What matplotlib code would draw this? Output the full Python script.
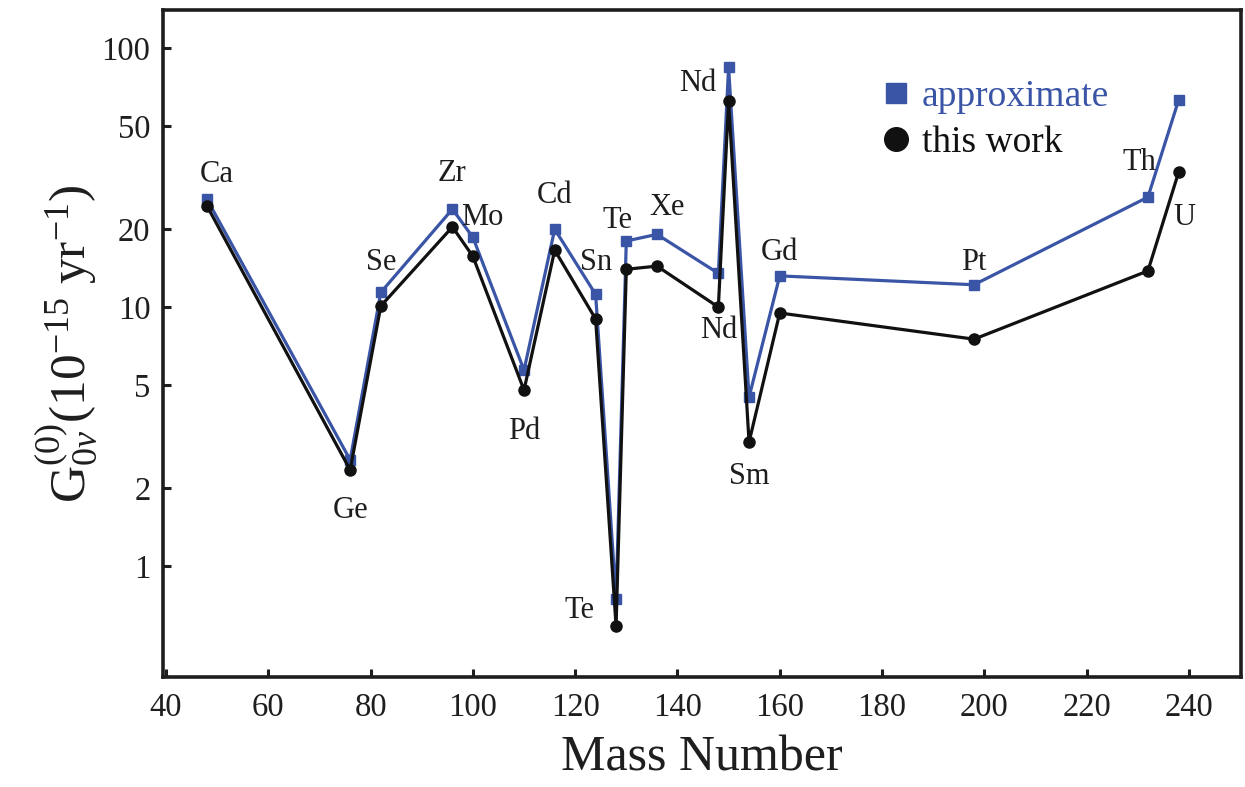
import matplotlib
matplotlib.use("Agg")
import matplotlib.pyplot as plt
from matplotlib.lines import Line2D

# ---- data ----
mass = [48, 76, 82, 96, 100, 110, 116, 124, 128, 130, 136, 148, 150, 154, 160, 198, 232, 238]
elements = ["Ca", "Ge", "Se", "Zr", "Mo", "Pd", "Cd", "Sn", "Te", "Te", "Xe", "Nd", "Nd", "Sm", "Gd", "Pt", "Th", "U"]
approx = [26.1, 2.57, 11.4, 23.9, 18.6, 5.71, 20.0, 11.2, 0.746, 18.0, 19.1, 13.5, 84.5, 4.49, 13.2, 12.2, 26.6, 63.0]
this_work = [24.6, 2.35, 10.1, 20.4, 15.7, 4.78, 16.6, 9.0, 0.586, 14.0, 14.4, 10.0, 62.4, 3.01, 9.49, 7.52, 13.8, 33.2]

# label anchor: 'a' = approximate point, 't' = this work point; offsets in points
label_anchor = ["a", "t", "a", "a", "a", "t", "a", "a", "t", "a", "a", "t", "a", "t", "a", "a", "a", "t"]
label_dx = [7, 0, 0, 0, 7, 0, 0, 0, -26, -6, 7, 0, -22, 0, 0, 0, -6, 4]
label_dy = [18, -29.5, 21.5, 26, 14, -29.5, 24, 23, 11, 15, 19, -17, -12, -25, 17, 16, 25, -33]

xticks = [40, 60, 80, 100, 120, 140, 160, 180, 200, 220, 240]
yticks = [1, 2, 5, 10, 20, 50, 100]

BLUE = "#3a55a6"
INK = "#1e1e1e"

plt.rcParams["font.family"] = ["Liberation Serif", "DejaVu Serif"]
plt.rcParams["mathtext.fontset"] = "custom"
plt.rcParams["mathtext.rm"] = "Liberation Serif"
plt.rcParams["mathtext.it"] = "Liberation Serif:italic"

fig = plt.figure(figsize=(12.45, 7.87), dpi=100)
ax = fig.add_axes([0.1309, 0.1398, 0.9968 - 0.1309, 0.9879 - 0.1398])

ax.plot(mass, approx, color=BLUE, lw=2.3, marker="s", ms=7, mec=BLUE, mfc=BLUE, zorder=2)
ax.plot(mass, this_work, color="#111111", lw=2.3, marker="o", ms=8, mec="#111111", mfc="#111111", zorder=3)

for i, el in enumerate(elements):
    yv = approx[i] if label_anchor[i] == "a" else this_work[i]
    ax.annotate(el, (mass[i], yv), xytext=(label_dx[i], label_dy[i]), textcoords="offset points",
                ha="center", va="center", fontsize=22, color=INK)

ax.set_yscale("log")
ax.set_xlim(39.4, 250.2)
ax.set_ylim(0.373, 141)
ax.set_xticks(xticks)
ax.set_xticklabels([str(v) for v in xticks])
ax.set_yticks(yticks)
ax.set_yticklabels([str(v) for v in yticks])
ax.minorticks_off()
ax.tick_params(axis="both", direction="in", length=6, width=2.2, labelsize=23.5, colors=INK)
ax.tick_params(axis="x", pad=11)
ax.tick_params(axis="y", pad=9)
for s in ax.spines.values():
    s.set_linewidth(2.6)
    s.set_color(INK)

ax.set_xlabel("Mass Number", fontsize=36, color=INK, labelpad=9)
ax.set_ylabel(r"$\mathrm{G}^{(0)}_{0\nu}(10^{-15}\ \mathrm{yr}^{-1})$", fontsize=37, color=INK, labelpad=2)

handles = [Line2D([], [], ls="none", marker="s", ms=14, color=BLUE),
           Line2D([], [], ls="none", marker="o", ms=17, color="#111111")]
leg = ax.legend(handles, ["approximate", "this work"], loc="upper left", bbox_to_anchor=(0.652, 0.918),
                frameon=False, fontsize=27, handlelength=0.8, handletextpad=0.3, labelspacing=0.31,
                borderaxespad=0)
leg.get_texts()[0].set_color(BLUE)
leg.get_texts()[1].set_color("#111111")

fig.savefig("out.png", dpi=100)
